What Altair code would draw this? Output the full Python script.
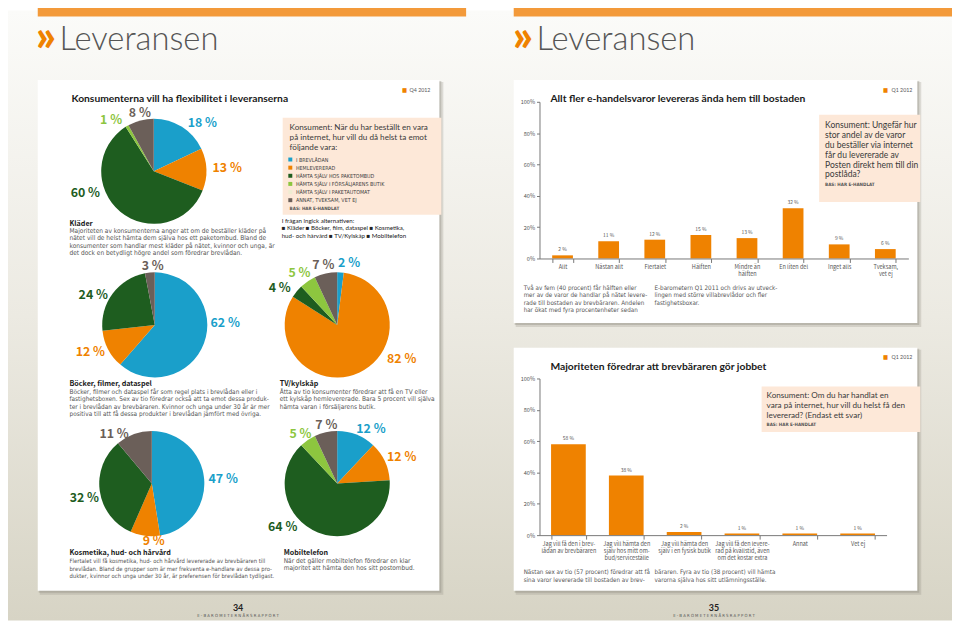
import altair as alt
import pandas as pd

# ---------------- data ----------------
pie_categories = ["I brevlådan", "Hemlevererad", "Hämta själv hos paketombud",
                  "Hämta själv i försäljarens butik", "Hämta själv i paketautomat",
                  "Annat, tveksam, vet ej"]
pie_colors = ["#1a9fca", "#ef8200", "#1e5d1f", "#8dc63f", "#efecd2", "#6b5f59"]

share_klader = [18, 13, 60, 1, 0, 8]
share_bocker = [62, 12, 24, 0, 0, 3]
share_kosmetika = [47, 9, 32, 0, 0, 11]
share_tv = [2, 82, 4, 5, 0, 7]
share_mobil = [12, 12, 64, 5, 0, 7]

delivery_cats = ["Allt", "Nästan allt", "Flertalet", "Hälften", "Mindre än\nhälften",
                 "En liten del", "Inget alls", "Tveksam,\nvet ej"]
delivery_vals = [2, 11, 12, 15, 13, 32, 9, 6]

pref_cats = ["Jag vill få den i brev-\nlådan av brevbäraren",
             "Jag vill hämta den\nsjälv hos mitt om-\nbud/serviceställe",
             "Jag vill hämta den\nsjälv i en fysisk butik",
             "Jag vill få den levere-\nrad på kvällstid, även\nom det kostar extra",
             "Annat", "Vet ej"]
pref_vals = [58, 38, 2, 1, 1, 1]

y_ticks = [0, 20, 40, 60, 80, 100]

# ---------------- style ----------------
W, H = 952, 615
COND = "'DejaVu Sans Condensed', 'Liberation Sans Narrow', Roboto, sans-serif"
NARROW = "'Noto Sans CJK SC', Roboto, sans-serif"
LATO = "Lato, Roboto, sans-serif"
ORANGE = "#ef8200"
BODY = "#555555"
ONE = pd.DataFrame({"a": [0]})


def P(v):
    return v - 8


def text(lines, x, y, size, color="#333333", weight="normal", align="left",
         baseline="middle", font=COND, lh=None):
    if isinstance(lines, str):
        lines = [lines]
    mk = dict(text=lines if len(lines) > 1 else lines[0], align=align,
              baseline="top" if len(lines) > 1 else baseline,
              fontSize=size, font=font, color=color, fontWeight=weight)
    if lh:
        mk["lineHeight"] = lh
    yy = y - size * 0.55 if len(lines) > 1 else y
    return alt.Chart(ONE).mark_text(**mk).encode(x=alt.value(P(x)), y=alt.value(P(yy)))


def rect(x1, y1, x2, y2, color, opacity=1.0):
    return alt.Chart(ONE).mark_rect(color=color, opacity=opacity).encode(
        x=alt.value(P(x1)), x2=alt.value(P(x2)), y=alt.value(P(y1)), y2=alt.value(P(y2)))


def card(x1, y1, x2, y2):
    return [rect(x1 + 2, y1 + 2, x2 + 4, y2 + 4, "#8a877c", 0.25),
            rect(x1 + 1, y1 + 1, x2 + 2, y2 + 2, "#8a877c", 0.35),
            rect(x1, y1, x2, y2, "#ffffff")]


color_scale = alt.Scale(domain=pie_categories, range=pie_colors)
color_legend = alt.Legend(orient="none", legendX=P(290), legendY=P(155.5), title=None,
                          direction="vertical", symbolType="square", symbolSize=16,
                          symbolStrokeWidth=0, labelFontSize=5.4, labelFont=COND,
                          labelColor="#444444", labelExpr="upper(datum.label)",
                          rowPadding=1.2, padding=0, labelOffset=3, labelLimit=300)


def pie(vals, cx, cy, r=53):
    df = pd.DataFrame({"cat": pie_categories, "v": vals, "o": list(range(len(vals)))})
    return alt.Chart(df).mark_arc(outerRadius=r, strokeWidth=0).encode(
        theta=alt.Theta("v:Q", stack=True),
        color=alt.Color("cat:N", scale=color_scale, legend=color_legend),
        order=alt.Order("o:Q", sort="ascending"),
        x=alt.value(P(cx)), y=alt.value(P(cy)))


def pie_labels(vals, spots):
    out = []
    for i, (x, y) in spots.items():
        out.append(text(f"{vals[i]} %", x, y, 12.5, color=pie_colors[i], weight="bold",
                        align="center", font=NARROW))
    return out


def bar_chart(cats, vals, x_range, y_zero, y_top, pad_inner):
    df = pd.DataFrame({"cat": cats, "v": vals})
    x = alt.X("cat:N", sort=cats,
              scale=alt.Scale(range=[P(x_range[0]), P(x_range[1])],
                              paddingInner=pad_inner, paddingOuter=pad_inner / 2),
              axis=alt.Axis(title=None, orient="bottom", offset=-(H - P(y_zero)),
                            tickBand="extent", labelExpr="split(datum.label, '\\n')",
                            labelAngle=0, labelFontSize=5.6, labelFont=NARROW,
                            labelColor=BODY, labelLineHeight=7.4, tickSize=4,
                            tickColor="#777777", domainColor="#777777", labelPadding=2,
                            grid=False, zindex=1))
    y = alt.Y("v:Q",
              scale=alt.Scale(domain=[0, 100], range=[P(y_zero), P(y_top)]),
              axis=alt.Axis(title=None, orient="left", offset=-P(544), values=y_ticks,
                            labelExpr="datum.value + '%'", tickSize=3, labelFontSize=5.6,
                            labelFont=NARROW, labelColor=BODY, domainColor="#777777",
                            tickColor="#777777", labelPadding=2, grid=False, zindex=1))
    bars = alt.Chart(df).mark_bar(color=ORANGE).encode(x=x, y=y)
    labels = alt.Chart(df).transform_calculate(lbl="datum.v + ' %'").mark_text(
        dy=-3, baseline="bottom", fontSize=5.0, color=BODY, font=NARROW).encode(
        x=x, y=y, text="lbl:N")
    return alt.layer(bars, labels)


layers = []

# background
bg = alt.Chart(ONE).mark_rect(color=alt.LinearGradient(
    gradient="linear", x1=0, x2=0, y1=0, y2=1,
    stops=[alt.GradientStop(color="#fbfbf9", offset=0),
           alt.GradientStop(color="#eceae2", offset=0.5),
           alt.GradientStop(color="#d7d4c5", offset=1)])).encode(
    x=alt.value(0), x2=alt.value(W), y=alt.value(0), y2=alt.value(H))
layers.append(bg)
layers.append(rect(38, 0, 470, 14, "#f39a3a"))
layers.append(rect(518, 0, 960, 14, "#f39a3a"))

# headers
for hx in (37, 518):
    layers.append(text("»", hx - 1, 49, 44, color=ORANGE, weight=900, baseline="alphabetic",
                       font=LATO))
    layers.append(text("Leveransen", hx + 23, 48, 33, color="#555555", weight=300,
                       baseline="alphabetic", font=LATO))

# cards
layers += card(38, 78, 443, 593)
layers += card(518, 78, 925, 323)
layers += card(518, 348, 925, 593)

TITLE = dict(size=10.4, color="#1a1a1a", weight="bold", font=LATO)
QTEXT = dict(size=8.2, color="#3a3a3a", lh=10, font=LATO)

# ---------------- left page ----------------
layers.append(text("Konsumenterna vill ha flexibilitet i leveranserna", 72, 97, **TITLE))
layers.append(text("■", 408, 88, 6, color=ORANGE, align="center"))
layers.append(text("Q4 2012", 413, 88, 5.3, color=BODY, font=LATO))

layers.append(rect(285, 116, 445, 214, "#fde8d8"))
layers.append(text(["Konsument: När du har beställt en vara",
                    "på internet, hur vill du då helst ta emot",
                    "följande vara:"], 292, 127, **QTEXT))
layers.append(text("BAS: HAR E-HANDLAT", 292, 208, 4.6, color=BODY, weight="bold"))
layers.append(text(["I frågan ingick alternativen:",
                    "■ Kläder ■ Böcker, film, dataspel ■ Kosmetika,",
                    "hud- och hårvård ■ TV/Kylskåp ■ Mobiltelefon"], 284, 221, 6.2,
                   color="#222222", lh=7.2, font=LATO))

layers.append(pie(share_klader, 155, 170))
layers.append(pie(share_bocker, 156, 325))
layers.append(pie(share_kosmetika, 153, 485))
layers.append(pie(share_tv, 340, 325))
layers.append(pie(share_mobil, 340, 485))

layers += pie_labels(share_klader, {0: (204, 121), 1: (229, 167), 2: (86, 192),
                                    3: (112, 118), 5: (141, 111)})
layers += pie_labels(share_bocker, {0: (227, 323), 1: (91, 352), 2: (94, 295), 5: (154, 266)})
layers += pie_labels(share_kosmetika, {0: (225, 480), 1: (155, 543), 2: (85, 500),
                                       5: (115, 435)})
layers += pie_labels(share_tv, {0: (352, 263), 1: (405, 359), 2: (282, 288),
                                3: (302, 273), 5: (326, 265)})
layers += pie_labels(share_mobil, {0: (374, 430), 1: (405, 458), 2: (285, 529),
                                   3: (303, 435), 5: (329, 426)})

HEAD = dict(size=7.2, color="#1a1a1a", weight="bold", font=NARROW)
layers.append(text("Kläder", 70, 223, **HEAD))
layers.append(text(["Majoriteten av konsumenterna anger att om de beställer kläder på",
                    "nätet vill de helst hämta dem själva hos ett paketombud. Bland de",
                    "konsumenter som handlar mest kläder på nätet, kvinnor och unga, är",
                    "det dock en betydligt högre andel som föredrar brevlådan."],
                   70, 230.5, 6.6, color=BODY, lh=7.6))
layers.append(text("Böcker, filmer, dataspel", 70, 385, **HEAD))
layers.append(text(["Böcker, filmer och dataspel får som regel plats i brevlådan eller i",
                    "fastighetsboxen. Sex av tio föredrar också att ta emot dessa produk-",
                    "ter i brevlådan av brevbäraren. Kvinnor och unga under 30 år är mer",
                    "positiva till att få dessa produkter i brevlådan jämfört med övriga."],
                   70, 393, 6.5, color=BODY, lh=7.6))
layers.append(text("Kosmetika, hud- och hårvård", 70, 555.5, **HEAD))
layers.append(text(["Flertalet vill få kosmetika, hud- och hårvård levererade av brevbäraren till",
                    "brevlådan. Bland de grupper som är mer frekventa e-handlare av dessa pro-",
                    "dukter, kvinnor och unga under 30 år, är preferensen för brevlådan tydligast."],
                   70, 563.5, 5.95, color=BODY, lh=7.6))
layers.append(text("TV/kylskåp", 282, 385, **HEAD))
layers.append(text(["Åtta av tio konsumenter föredrar att få en TV eller",
                    "ett kylskåp hemlevererade. Bara 5 procent vill själva",
                    "hämta varan i försäljarens butik."],
                   282, 393, 6.6, color=BODY, lh=7.6))
layers.append(text("Mobiltelefon", 286, 555.5, **HEAD))
layers.append(text(["När det gäller mobiltelefon föredrar en klar",
                    "majoritet att hämta den hos sitt postombud."],
                   286, 563.5, 6.6, color=BODY, lh=7.6))

# ---------------- right page ----------------
layers.append(text("Allt fler e-handelsvaror levereras ända hem till bostaden", 555, 97, **TITLE))
layers.append(text("■", 893, 88, 6, color=ORANGE, align="center"))
layers.append(text("Q1 2012", 899, 88, 5.3, color=BODY, font=LATO))
layers.append(bar_chart(delivery_cats, delivery_vals, (544, 916), 258, 100, 0.55))
layers.append(rect(826, 113, 928, 201, "#fde8d8"))
layers.append(text(["Konsument: Ungefär hur", "stor andel av de varor",
                    "du beställer via internet", "får du levererade av",
                    "Posten direkt hem till din", "postlåda?"], 832, 124,
                   **dict(QTEXT, size=8.6)))
layers.append(text("BAS: HAR E-HANDLAT", 832, 184, 4.6, color=BODY, weight="bold"))
layers.append(text(["Två av fem (40 procent) får hälften eller",
                    "mer av de varor de handlar på nätet levere-",
                    "rade till bostaden av brevbäraren. Andelen",
                    "har ökat med fyra procentenheter sedan"], 528, 288, 6.3,
                   color=BODY, lh=7.5))
layers.append(text(["E-barometern Q1 2011 och drivs av utveck-",
                    "lingen med större villabrevlådor och fler",
                    "fastighetsboxar."], 660, 288, 6.3, color=BODY, lh=7.5))

layers.append(text("Majoriteten föredrar att brevbäraren gör jobbet", 555, 367, **TITLE))
layers.append(text("■", 893, 357, 6, color=ORANGE, align="center"))
layers.append(text("Q1 2012", 899, 357, 5.3, color=BODY, font=LATO))
layers.append(bar_chart(pref_cats, pref_vals, (544, 894), 537, 379, 0.4))
layers.append(rect(768, 387, 928, 433, "#fde8d8"))
layers.append(text(["Konsument: Om du har handlat en",
                    "vara på internet, hur vill du helst få den",
                    "levererad? (Endast ett svar)"], 773, 397, **QTEXT))
layers.append(text("BAS: HAR E-HANDLAT", 773, 426, 4.6, color=BODY, weight="bold"))
layers.append(text(["Nästan sex av tio (57 procent) föredrar att få",
                    "sina varor levererade till bostaden av brev-"], 528, 575, 6.3,
                   color=BODY, lh=7.5))
layers.append(text(["bäraren. Fyra av tio (38 procent) vill hämta",
                    "varorna själva hos sitt utlämningsställe."], 660, 575, 6.3,
                   color=BODY, lh=7.5))

# page footers
for cx, num in ((240, "34"), (720, "35")):
    layers.append(text(num, cx, 611, 9, color="#222222", weight="bold", align="center",
                       font=LATO))
    layers.append(text("E - B A R O M E T E R N   Å R S R A P P O R T", cx, 619, 4.3,
                       color="#555555", align="center"))

chart = alt.layer(*layers).resolve_scale(
    x="independent", y="independent", theta="independent"
).properties(
    width=W, height=H, autosize=alt.AutoSizeParams(type="none"), padding=0
).configure_view(stroke=None)

chart.save("out.html", embed_options={"renderer": "svg", "actions": False})
